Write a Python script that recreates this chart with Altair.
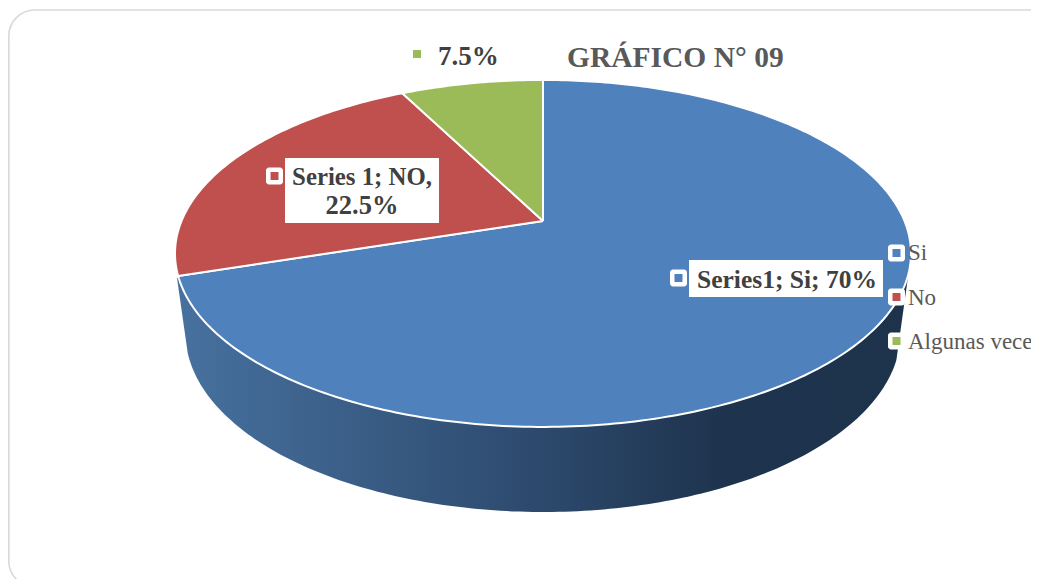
import numpy as np
import pandas as pd
import altair as alt

CATEGORIES = ["Si", "No", "Algunas veces"]
SHARES = [70.0, 22.5, 7.5]
COLORS = ["#4f81bd", "#c0504d", "#9bbb59"]
TITLE = "GRÁFICO N° 09"
FONT = "Liberation Serif"

W, H = 1023, 571
X_SCALE = alt.Scale(domain=[8, 8 + W], range=[0, W], nice=False, zero=False)
Y_SCALE = alt.Scale(domain=[8, 8 + H], range=[0, H], nice=False, zero=False)
ONE = pd.DataFrame({"k": [0]})


def rim(theta):
    # perspective view of the pie's top face; theta clockwise from 12 o'clock
    u, v = np.sin(theta), np.cos(theta)
    w = 1 + 0.187 * v
    return 543 + 361.5 * u / w, 221 - 167.4 * v / w


def polygon(xs, ys, fill, stroke=None, sw=0):
    df = pd.DataFrame({"px": xs, "py": ys, "o": range(len(xs))})
    kw = {"stroke": stroke, "strokeWidth": sw} if stroke else {"strokeWidth": 0}
    return alt.Chart(df).mark_line(fill=fill, strokeJoin="round", clip=False, **kw).encode(
        x=alt.X("px:Q", scale=X_SCALE, axis=None),
        y=alt.Y("py:Q", scale=Y_SCALE, axis=None),
        order="o:Q",
    )


def box(x0, x1, y0, y1, fill="white", radius=0):
    return alt.Chart(ONE).mark_rect(fill=fill, cornerRadius=radius).encode(
        x=alt.value(x0 - 8), x2=alt.value(x1 - 8), y=alt.value(y0 - 8), y2=alt.value(y1 - 8)
    )


def marker(cx, cy, color, halo=True):
    layers = [box(cx - 8.5, cx + 8.5, cy - 8.5, cy + 8.5, radius=3)] if halo else []
    layers.append(box(cx - 4, cx + 4, cy - 4, cy + 4, fill=color))
    return layers


def text(s, x, y, size, bold=False, color="#595959", align="left"):
    return alt.Chart(ONE).mark_text(
        text=s, font=FONT, fontSize=size, fontWeight="bold" if bold else "normal",
        color=color, align=align, baseline="alphabetic",
    ).encode(x=alt.value(x - 8), y=alt.value(y - 8))


frame = alt.Chart(ONE).mark_rect(
    fill="white", stroke="#d9d9d9", strokeWidth=1.6, cornerRadius=26
).encode(x=alt.value(0.8), x2=alt.value(1200), y=alt.value(2), y2=alt.value(579))

# side wall
phi = np.radians(np.linspace(8.7, 173.6, 160))
wall_x = [177.0] + list(543 + 357.5 * np.cos(phi))[::-1] + [908.0]
wall_y = [278.0] + list(333 + 179 * np.sin(phi))[::-1] + [277.0]
wall_x.append(wall_x[0])
wall_y.append(wall_y[0])
wall = polygon(
    wall_x, wall_y,
    alt.Gradient(
        gradient="linear", x1=0, x2=1, y1=0, y2=0,
        stops=[
            alt.GradientStop(offset=0, color="#47719f"),
            alt.GradientStop(offset=0.5, color="#2c496c"),
            alt.GradientStop(offset=0.75, color="#1e334d"),
            alt.GradientStop(offset=1, color="#1d324b"),
        ],
    ),
)

# top face slices
slices = []
start = 0.0
for share, color in zip(SHARES, COLORS):
    end = start + share
    th = np.radians(np.linspace(start, end, max(int(share * 4), 12)) * 3.6)
    rx, ry = rim(th)
    xs = [543.0] + list(rx) + [543.0]
    ys = [221.0] + list(ry) + [221.0]
    slices.append(polygon(xs, ys, color, stroke="white", sw=2))
    start = end

layers = [frame, wall] + slices
layers += [box(689, 883, 260, 297), box(285, 439, 158, 223)]
layers += marker(678.5, 278, COLORS[0])
layers += marker(274.5, 176, COLORS[1])
layers += marker(896.5, 253, COLORS[0])
layers += marker(896.5, 297, COLORS[1])
layers += marker(896.5, 341, COLORS[2])
layers += marker(417, 54, COLORS[2], halo=False)
layers += [
    text(TITLE, 567, 67, 29.5, bold=True),
    text("7.5%", 438, 65, 27, bold=True, color="#404040"),
    text("Series1; Si; 70%", 697, 288, 25.5, bold=True, color="#404040"),
    text("Series 1; NO,", 362, 185, 24.8, bold=True, color="#404040", align="center"),
    text("22.5%", 362, 214, 26.5, bold=True, color="#404040", align="center"),
]
for name, y in zip(CATEGORIES, [260, 305, 349]):
    layers.append(text(name, 908, y, 23))

chart = alt.layer(*layers).properties(
    width=W, height=H, padding=0, autosize=alt.AutoSizeParams(type="none"),
    background="white",
).configure_view(stroke=None)

chart.save("out.html", embed_options={"renderer": "svg", "actions": False})
